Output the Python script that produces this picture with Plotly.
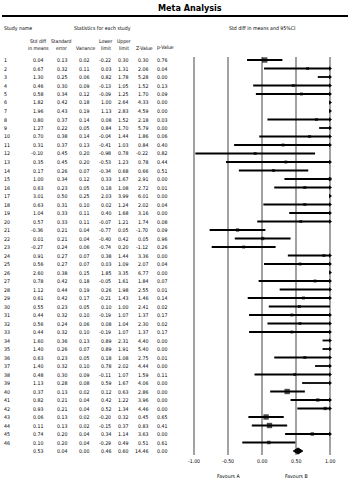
import plotly.graph_objects as go
import numpy as np

study = [str(i) for i in range(1, 47)]
smd = [0.04,0.67,1.30,0.46,0.58,1.82,1.96,0.80,1.27,0.70,0.31,-0.10,0.35,0.17,1.00,0.63,3.01,0.63,1.04,0.57,
       -0.36,0.01,-0.27,0.91,0.56,2.60,0.78,1.12,0.61,0.55,0.44,0.56,0.44,1.60,1.40,0.63,1.40,0.48,1.13,0.37,
       0.82,0.93,0.06,0.11,0.74,0.10]
se = [0.13,0.32,0.25,0.30,0.34,0.42,0.43,0.37,0.22,0.38,0.37,0.45,0.45,0.26,0.34,0.23,0.50,0.31,0.33,0.33,
      0.21,0.21,0.24,0.27,0.27,0.38,0.42,0.44,0.42,0.23,0.32,0.24,0.32,0.36,0.26,0.23,0.32,0.30,0.28,0.13,
      0.21,0.21,0.13,0.13,0.20,0.20]
var = [0.02,0.11,0.06,0.09,0.12,0.18,0.19,0.14,0.05,0.14,0.13,0.20,0.20,0.07,0.12,0.05,0.25,0.10,0.11,0.11,
       0.04,0.04,0.06,0.07,0.07,0.15,0.18,0.19,0.17,0.05,0.10,0.06,0.10,0.13,0.07,0.05,0.10,0.09,0.08,0.02,
       0.04,0.04,0.02,0.02,0.04,0.04]
lower = [-0.22,0.03,0.82,-0.13,-0.09,1.00,1.13,0.08,0.84,-0.04,-0.41,-0.98,-0.53,-0.34,0.33,0.18,2.03,0.02,0.40,-0.07,
         -0.77,-0.40,-0.74,0.38,0.03,1.85,-0.05,0.26,-0.21,0.10,-0.19,0.08,-0.19,0.89,0.89,0.18,0.78,-0.11,0.59,0.12,
         0.42,0.52,-0.20,-0.15,0.34,-0.29]
upper = [0.30,1.31,1.78,1.05,1.25,2.64,2.83,1.52,1.70,1.44,1.03,0.78,1.23,0.68,1.67,1.08,3.99,1.24,1.68,1.21,
         0.05,0.42,0.20,1.44,1.09,3.35,1.61,1.98,1.43,1.00,1.07,1.04,1.07,2.31,1.91,1.08,2.02,1.07,1.67,0.63,
         1.22,1.34,0.32,0.37,1.14,0.49]
zval = [0.30,2.06,5.28,1.52,1.70,4.33,4.59,2.18,5.79,1.86,0.84,-0.22,0.78,0.66,2.91,2.72,6.01,2.02,3.16,1.74,
        -1.70,0.05,-1.12,3.36,2.07,6.77,1.84,2.55,1.46,2.41,1.37,2.30,1.37,4.40,5.40,2.75,4.44,1.59,4.06,2.86,
        3.96,4.46,0.45,0.83,3.63,0.51]
pval = [0.76,0.04,0.00,0.13,0.09,0.00,0.00,0.03,0.00,0.06,0.40,0.82,0.44,0.51,0.00,0.01,0.00,0.04,0.00,0.08,
        0.09,0.96,0.26,0.00,0.04,0.00,0.07,0.01,0.14,0.02,0.17,0.02,0.17,0.00,0.00,0.01,0.00,0.11,0.00,0.00,
        0.00,0.00,0.65,0.41,0.00,0.61]
summary = {"smd": 0.53, "se": 0.04, "var": 0.00, "lower": 0.46, "upper": 0.60, "z": 14.46, "p": 0.00}
tick_vals = [-1.0, -0.5, 0.0, 0.5, 1.0]
tick_text = ["-1.00", "-0.50", "0.00", "0.50", "1.00"]

W, H = 350, 483
FONT = ("'Liberation Sans Narrow', 'DejaVu Sans Condensed', 'Roboto Condensed', 'Noto Sans Condensed', "
        "'Arial Narrow', 'Liberation Sans', sans-serif")
n = len(study)
rows = np.arange(1, n + 1)
sum_row = n + 1

# pixel geometry
row1_px, row_step = 60.0, 8.5
x0_px, unit_px = 262.0, 68.0
yr = [1 + (H - row1_px) / row_step, 1 - row1_px / row_step]
xr = [-x0_px / unit_px, (W - x0_px) / unit_px]

def px(x):
    return x / W

def py(y):
    return 1 - y / H

def rowpx(r):
    return row1_px + (r - 1) * row_step

fig = go.Figure()

shapes = []
for tv in tick_vals:
    shapes.append(dict(type="line", xref="x", yref="paper", x0=tv, x1=tv, y0=py(455), y1=py(57),
                       line=dict(color="#7a7a7a", width=1.4), layer="below"))
shapes.append(dict(type="line", xref="paper", yref="paper", x0=px(2), x1=px(348), y0=py(16), y1=py(16),
                   line=dict(color="black", width=2.2)))

lo = np.array(lower); hi = np.array(upper); est = np.array(smd); sev = np.array(se)
lo_c = np.clip(lo, -1, 1); hi_c = np.clip(hi, -1, 1)
lx, ly = [], []
for i in range(n):
    if lo[i] < 1 and hi[i] > -1:
        lx += [lo_c[i], hi_c[i], None]
        ly += [rows[i], rows[i], None]
fig.add_trace(go.Scatter(x=lx, y=ly, mode="lines", line=dict(color="black", width=1.8), hoverinfo="skip"))

vis = (est >= -1) & (est <= 1)
sizes = np.maximum(3, 0.7 / sev)
fig.add_trace(go.Scatter(x=est[vis], y=rows[vis], mode="markers",
                         marker=dict(symbol="square", color="black", size=sizes[vis], line=dict(width=0))))

arr = hi > 1
fig.add_trace(go.Scatter(x=np.ones(arr.sum()), y=rows[arr], mode="markers",
                         marker=dict(symbol="triangle-right", color="black", size=4, line=dict(width=0))))

dh = 0.36
fig.add_trace(go.Scatter(x=[summary["lower"], summary["smd"], summary["upper"], summary["smd"], summary["lower"]],
                         y=[sum_row, sum_row - dh, sum_row, sum_row + dh, sum_row],
                         mode="lines", fill="toself", fillcolor="black", line=dict(color="black", width=1)))

ann = []
def txt(x, y, s, size=5.2, anchor="center", xref="paper", bold=False):
    ann.append(dict(x=x, y=y, xref=xref, yref="paper", text=f"<b>{s}</b>" if bold else s, showarrow=False,
                    xanchor=anchor, yanchor="middle", font=dict(family=FONT, size=size, color="black")))

txt(px(190), py(8), "Meta Analysis", size=9, bold=True)
txt(px(2), py(28), "Study name", anchor="left")
txt(px(102), py(28), "Statistics for each study")
txt(px(262), py(28), "Std diff in means and 95%CI")
hdr = [(38, "Std diff", "in means"), (62, "Standard", "error"), (86, None, "Variance"),
       (106, "Lower", "limit"), (124, "Upper", "limit"), (144, None, "Z-Value"), (165, None, "p-Value")]
for x, a, b in hdr:
    if a:
        txt(px(x), py(41), a, size=5)
    txt(px(x), py(47.5), b, size=5)

col_right = [45, 69, 91, 113, 130, 150, 169]
cols = [smd, se, var, lower, upper, zval, pval]
for i in range(n):
    y = py(rowpx(rows[i]))
    txt(px(2), y, study[i], anchor="left")
    for cx, col in zip(col_right, cols):
        txt(px(cx), y, f"{col[i]:.2f}", anchor="right")
ys = py(rowpx(sum_row))
for cx, key in zip(col_right, ["smd", "se", "var", "lower", "upper", "z", "p"]):
    txt(px(cx), ys, f"{summary[key]:.2f}", anchor="right")

for tv, tt in zip(tick_vals, tick_text):
    txt(tv, py(461), tt, xref="x")
txt(-0.5, py(476), "Favours A", xref="x")
txt(0.5, py(476), "Favours B", xref="x")

fig.update_layout(width=W, height=H, margin=dict(l=0, r=0, t=0, b=0), showlegend=False,
                  paper_bgcolor="white", plot_bgcolor="white", shapes=shapes, annotations=ann,
                  xaxis=dict(range=xr, visible=False, fixedrange=True),
                  yaxis=dict(range=yr, visible=False, fixedrange=True))
fig.write_html("out.html", config={"displayModeBar": False},
               post_script="document.body.style.margin='0px';")
